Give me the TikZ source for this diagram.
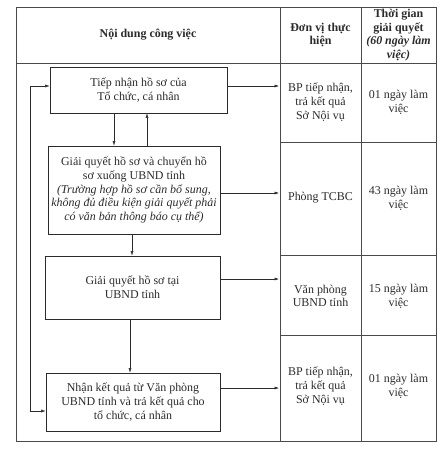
\documentclass[tikz,border=0pt]{standalone}
\usepackage{fontspec}
\setmainfont{Liberation Serif}
\usetikzlibrary{arrows.meta,positioning,calc}
\definecolor{ink}{HTML}{2B2B2B}
\definecolor{rule}{HTML}{4A4A4A}

\begin{document}
\begin{tikzpicture}[
  x=1bp, y=-1bp,
  font=\fontsize{12}{13.8}\selectfont,
  >={Latex[length=4.5pt,width=3pt]},
  flow/.style={->, draw=ink, line width=.5pt},
  grid/.style={draw=rule, line width=.6pt},
  box/.style={draw=ink, line width=.6pt, align=center, inner sep=1pt, text=ink},
  cell/.style={align=center, text=ink},
  head/.style={font=\fontsize{12}{13.6}\selectfont\bfseries, align=center, text=ink}
]
\useasboundingbox (0,0) rectangle (445,455);

% Khung bảng.
\draw[grid] (16,7) rectangle (436,441);
\draw[grid] (16,63) -- (436,63);
\draw[grid] (280,7) -- (280,441);
\draw[grid] (361,7) -- (361,441);
\foreach \y in {142,255,335}
  \draw[grid] (280,\y) -- (436,\y);

\node[head] (hcontent) at (148,35) {Nội dung công việc};
\node[head] (hunit) at (320.5,35) {Đơn vị thực\\hiện};
\node[head] (htime) at (398.5,35) {Thời gian\\giải quyết\\\textit{(60 ngày làm}\\\textit{việc)}};

% Các bước.
\node[box, minimum width=177bp, minimum height=46bp] (receive) at (138.5,90)
      {Tiếp nhận hồ sơ của\\Tổ chức, cá nhân};
\node[box, minimum width=172bp, minimum height=88bp] (process) at (134,190)
      {Giải quyết hồ sơ và chuyển hồ\\sơ xuống UBND tỉnh\\\textit{(Trường hợp hồ sơ cần bổ sung,}\\\textit{không đủ điều kiện giải quyết phải}\\\textit{có văn bản thông báo cụ thể)}};
\node[box, minimum width=175bp, minimum height=63bp] (province) at (132.5,287.5)
      {Giải quyết hồ sơ tại\\UBND tỉnh};
\node[box, minimum width=174bp, minimum height=58bp] (result) at (133,402)
      {Nhận kết quả từ Văn phòng\\UBND tỉnh và trả kết quả cho\\tổ chức, cá nhân};

% Đơn vị và thời gian.
\node[cell] (unit1) at (320.5,102) {BP tiếp nhận,\\trả kết quả\\Sở Nội vụ};
\node[cell] (time1) at (398.5,102) {01 ngày làm\\việc};
\node[cell] (unit2) at (320.5,198) {Phòng TCBC};
\node[cell] (time2) at (398.5,198) {43 ngày làm\\việc};
\node[cell] (unit3) at (320.5,296) {Văn phòng\\UBND tỉnh};
\node[cell] (time3) at (398.5,296) {15 ngày làm\\việc};
\node[cell] (unit4) at (320.5,386) {BP tiếp nhận,\\trả kết quả\\Sở Nội vụ};
\node[cell] (time4) at (398.5,386) {01 ngày làm\\việc};

\coordinate (r1) at (279,86);
\coordinate (r2) at (279,193);
\coordinate (r3) at (279,279);
\coordinate (r4) at (279,388);
\draw[flow] (receive.east |- r1) -- (r1);
\draw[flow] (process.east |- r2) -- (r2);
\draw[flow] (province.east |- r3) -- (r3);
\draw[flow] (result.east |- r4) -- (r4);

% Mũi tên giữa các bước.
\draw[flow] (receive.south -| 114,0) -- (process.north -| 114,0);
\draw[flow] (process.north -| 147,0) -- (receive.south -| 147,0);
\draw[flow] (process.south -| 132,0) -- (province.north -| 132,0);
\draw[flow] (province.south -| 130,0) -- (result.north -| 130,0);

\coordinate (l1) at (30,86);
\coordinate (l4) at (30,411);
\draw[flow, <->] (receive.west |- l1) -- (l1) -- (l4) -- (result.west |- l4);

\end{tikzpicture}
\end{document}
